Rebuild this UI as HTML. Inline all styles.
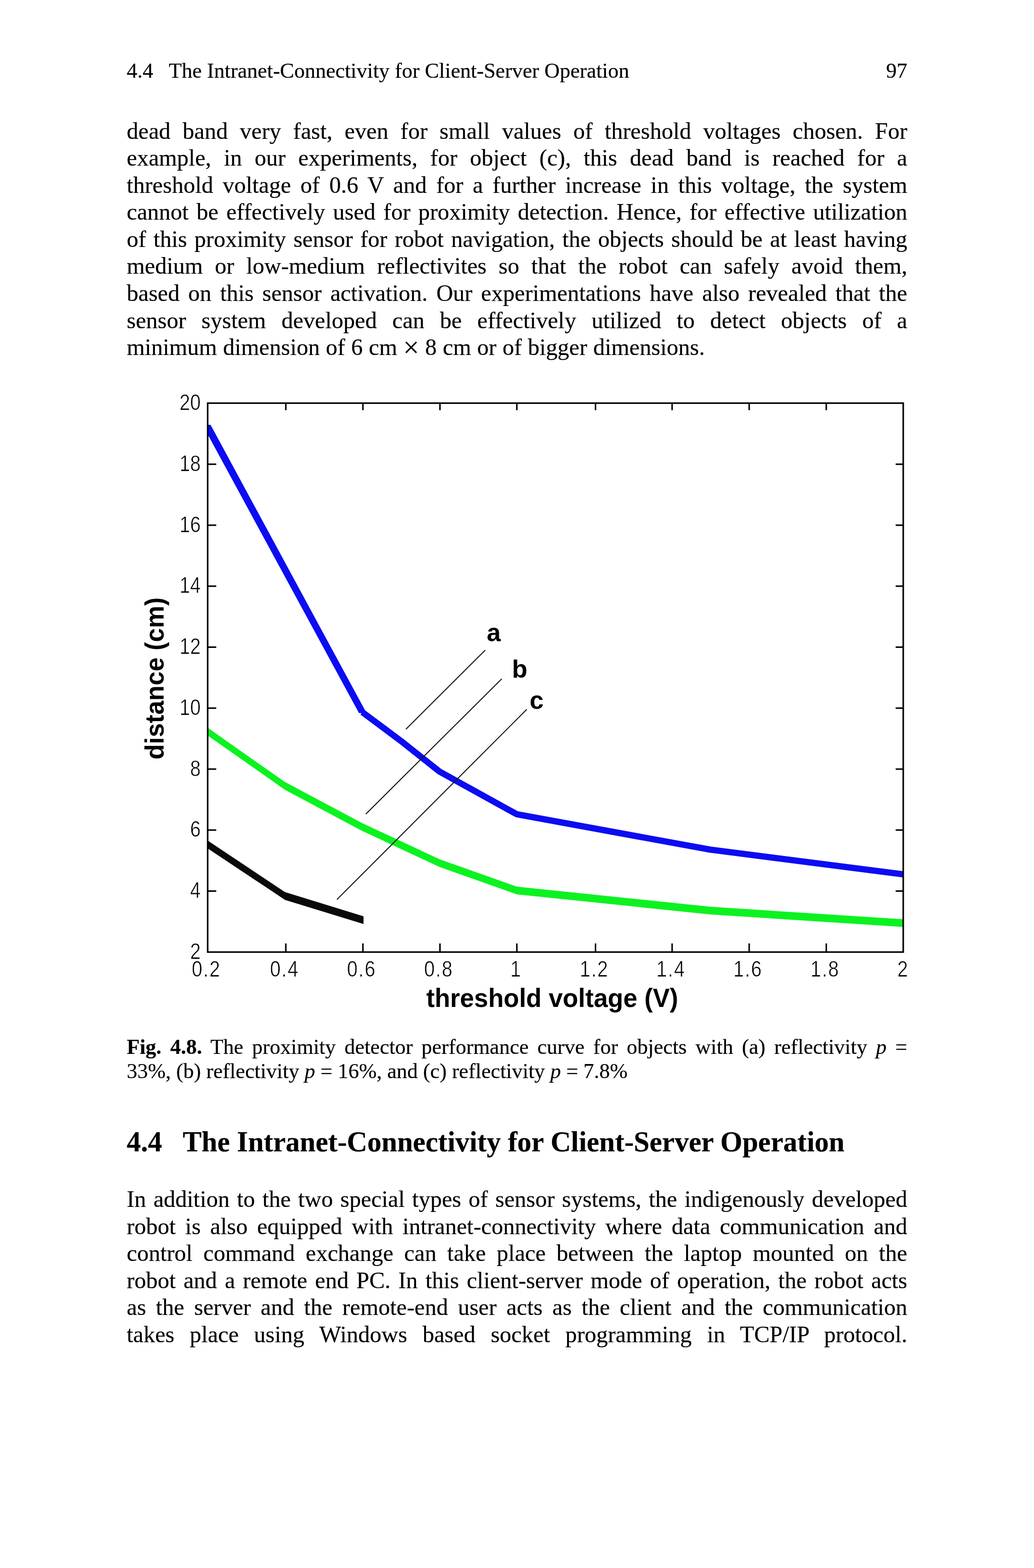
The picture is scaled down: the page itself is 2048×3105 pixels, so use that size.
<!DOCTYPE html>
<html lang="en">
<head>
<meta charset="utf-8">
<title>4.4 The Intranet-Connectivity for Client-Server Operation</title>
<style>
html,body{margin:0;padding:0;background:#fff;}
body{width:2048px;height:3105px;position:relative;overflow:hidden;color:#000;
  font-family:"Liberation Serif","Times New Roman",serif;-webkit-text-stroke:0.2px #000;}
.ln{position:absolute;left:251px;width:1546px;white-space:nowrap;margin:0;
  text-align:justify;text-align-last:justify;}
.b{font-size:46px;line-height:54px;height:54px;}
.l{text-align:left;text-align-last:left;}
.tm{font-size:56px;line-height:0;position:relative;top:4px;}
.hd{font-size:42px;line-height:48px;height:48px;}
.cap{font-size:42px;line-height:48px;height:48px;}
.h2{font-size:56px;line-height:70px;height:70px;font-weight:bold;text-align:left;text-align-last:left;white-space:pre;}
#chart{position:absolute;left:0;top:0;}
#chart text{font-family:"Liberation Sans",Arial,sans-serif;fill:#000;-webkit-text-stroke:0;stroke:none;}
#chart .tk text{stroke:#fff;stroke-width:0.7px;}
</style>
</head>
<body>
<div class="ln hd l" style="top:116px;white-space:pre;">4.4   The Intranet-Connectivity for Client-Server Operation</div>
<div class="ln hd" style="top:116px;text-align:right;text-align-last:right;">97</div>

<div class="ln b" style="top:232.8px;">dead band very fast, even for small values of threshold voltages chosen. For</div>
<div class="ln b" style="top:286.3px;">example, in our experiments, for object (c), this dead band is reached for a</div>
<div class="ln b" style="top:339.9px;">threshold voltage of 0.6 V and for a further increase in this voltage, the system</div>
<div class="ln b" style="top:393.4px;">cannot be effectively used for proximity detection. Hence, for effective utilization</div>
<div class="ln b" style="top:446.9px;">of this proximity sensor for robot navigation, the objects should be at least having</div>
<div class="ln b" style="top:500.4px;">medium or low-medium reflectivites so that the robot can safely avoid them,</div>
<div class="ln b" style="top:554.0px;">based on this sensor activation. Our experimentations have also revealed that the</div>
<div class="ln b" style="top:607.5px;">sensor system developed can be effectively utilized to detect objects of a</div>
<div class="ln b l" style="top:661.0px;word-spacing:0.4px;">minimum dimension of 6 cm <span class="tm">×</span> 8 cm or of bigger dimensions.</div>

<!--CHART-->
<svg id="chart" width="2048" height="3105" viewBox="0 0 2048 3105">
<defs><clipPath id="cp"><rect x="411.3" y="798.3" width="1379.2" height="1087.0"/></clipPath></defs>
<g clip-path="url(#cp)">
<polygon points="401.1,841.3 417.1,841.3 726.0,1412.1 711.0,1412.1" fill="#0c0cf2"/>
<polyline points="717.5,1410.1 794.0,1467.2 870.5,1527.9 1023.6,1612.4 1406.3,1682.4 1789.0,1731.3" fill="none" stroke="#0c0cf2" stroke-width="12.4" stroke-linejoin="round"/>
<polygon points="411.3,1441.1 564.4,1548.6 717.5,1630.1 870.5,1701.4 1023.6,1755.7 1406.3,1795.5 1789.0,1820.3 1789.0,1835.6 1406.3,1810.8 1023.6,1771.0 870.5,1716.7 717.5,1645.4 564.4,1563.9 411.3,1456.4" fill="#0cf220"/>
<polygon points="411.3,1664.5 564.4,1766.5 720.0,1814.4 720.0,1829.8 564.4,1781.9 411.3,1679.9" fill="#0a0a0a"/>
</g>
<g stroke="#1a1a1a" stroke-width="2.1" fill="none">
<line x1="804" y1="1444" x2="961" y2="1287.5"/>
<line x1="724.6" y1="1612" x2="993.8" y2="1344.2"/>
<line x1="667.4" y1="1781.2" x2="1043.3" y2="1404.8"/>
</g>
<rect x="411.3" y="798.3" width="1377.7" height="1087.0" fill="none" stroke="#000" stroke-width="3.1"/>
<path d="M566.1 1885.3v-17M566.1 798.3v14M718.8 1885.3v-17M718.8 798.3v14M871.4 1885.3v-17M871.4 798.3v14M1023.7 1885.3v-17M1023.7 798.3v14M1179.5 1885.3v-17M1179.5 798.3v14M1331.2 1885.3v-17M1331.2 798.3v14M1483.9 1885.3v-17M1483.9 798.3v14M1636.6 1885.3v-17M1636.6 798.3v14M411.3 1764.5h17M1789.0 1764.5h-15M411.3 1643.8h17M1789.0 1643.8h-15M411.3 1523.0h17M1789.0 1523.0h-15M411.3 1402.3h17M1789.0 1402.3h-15M411.3 1281.5h17M1789.0 1281.5h-15M411.3 1160.8h17M1789.0 1160.8h-15M411.3 1040.0h17M1789.0 1040.0h-15M411.3 919.3h17M1789.0 919.3h-15" stroke="#000" stroke-width="3" fill="none"/>
<g font-size="44" class="tk">
<text transform="translate(408.7 1934) scale(0.86 1)" text-anchor="middle" letter-spacing="2">0.2</text>
<text transform="translate(563.6 1934) scale(0.86 1)" text-anchor="middle" letter-spacing="2">0.4</text>
<text transform="translate(716.2 1934) scale(0.86 1)" text-anchor="middle" letter-spacing="2">0.6</text>
<text transform="translate(868.9 1934) scale(0.86 1)" text-anchor="middle" letter-spacing="2">0.8</text>
<text transform="translate(1021.2 1934) scale(0.86 1)" text-anchor="middle">1</text>
<text transform="translate(1177.0 1934) scale(0.86 1)" text-anchor="middle" letter-spacing="2">1.2</text>
<text transform="translate(1328.8 1934) scale(0.86 1)" text-anchor="middle" letter-spacing="2">1.4</text>
<text transform="translate(1481.4 1934) scale(0.86 1)" text-anchor="middle" letter-spacing="2">1.6</text>
<text transform="translate(1634.1 1934) scale(0.86 1)" text-anchor="middle" letter-spacing="2">1.8</text>
<text transform="translate(1787.8 1934) scale(0.86 1)" text-anchor="middle">2</text>
<text transform="translate(397.5 1898.8) scale(0.86 1)" text-anchor="end">2</text>
<text transform="translate(397.5 1778.0) scale(0.86 1)" text-anchor="end">4</text>
<text transform="translate(397.5 1657.3) scale(0.86 1)" text-anchor="end">6</text>
<text transform="translate(397.5 1536.5) scale(0.86 1)" text-anchor="end">8</text>
<text transform="translate(397.5 1415.8) scale(0.86 1)" text-anchor="end">10</text>
<text transform="translate(397.5 1295.0) scale(0.86 1)" text-anchor="end">12</text>
<text transform="translate(397.5 1174.3) scale(0.86 1)" text-anchor="end">14</text>
<text transform="translate(397.5 1053.5) scale(0.86 1)" text-anchor="end">16</text>
<text transform="translate(397.5 932.8) scale(0.86 1)" text-anchor="end">18</text>
<text transform="translate(397.5 812.0) scale(0.86 1)" text-anchor="end">20</text>
</g>
<g font-weight="bold">
<text x="1093.7" y="1994" font-size="52" text-anchor="middle" textLength="499" lengthAdjust="spacingAndGlyphs">threshold voltage (V)</text>
<text transform="translate(324 1343.4) rotate(-90)" font-size="52" text-anchor="middle" textLength="321" lengthAdjust="spacingAndGlyphs">distance (cm)</text>
<text x="964" y="1269.6" font-size="50">a</text>
<text x="1014" y="1342.4" font-size="50">b</text>
<text x="1049" y="1403.6" font-size="50">c</text>
</g>
</svg>
<!--/CHART-->

<div class="ln cap" style="top:2048.5px;"><b>Fig. 4.8.</b> The proximity detector performance curve for objects with (a) reflectivity <i>p</i> =</div>
<div class="ln cap l" style="top:2096.5px;">33%, (b) reflectivity <i>p</i> = 16%, and (c) reflectivity <i>p</i> = 7.8%</div>

<div class="ln h2" style="top:2226px;">4.4   The Intranet-Connectivity for Client-Server Operation</div>

<div class="ln b" style="top:2348.0px;">In addition to the two special types of sensor systems, the indigenously developed</div>
<div class="ln b" style="top:2401.6px;">robot is also equipped with intranet-connectivity where data communication and</div>
<div class="ln b" style="top:2455.2px;">control command exchange can take place between the laptop mounted on the</div>
<div class="ln b" style="top:2508.8px;">robot and a remote end PC. In this client-server mode of operation, the robot acts</div>
<div class="ln b" style="top:2562.4px;">as the server and the remote-end user acts as the client and the communication</div>
<div class="ln b" style="top:2616.0px;">takes place using Windows based socket programming in TCP/IP protocol.</div>
</body>
</html>
